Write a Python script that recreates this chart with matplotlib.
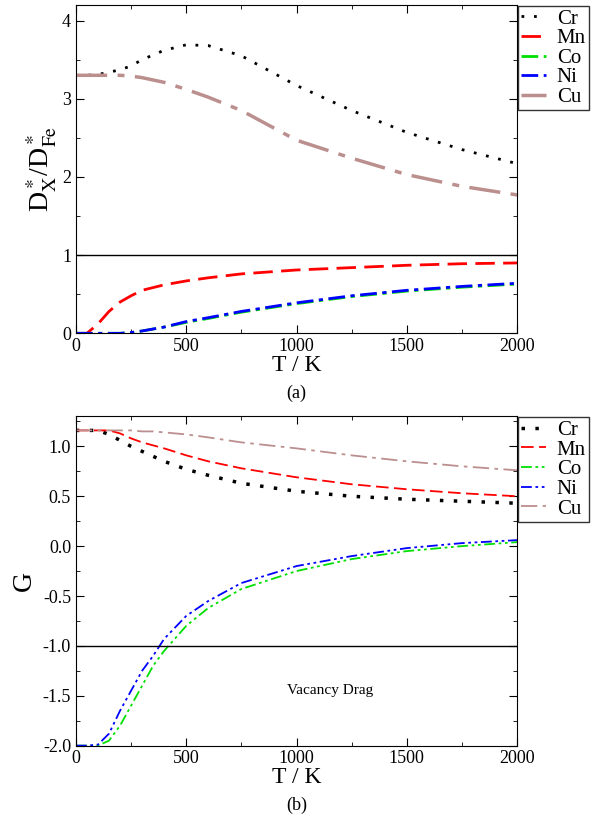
import matplotlib
matplotlib.use("Agg")
import matplotlib.pyplot as plt
from matplotlib.ticker import MultipleLocator

plt.rcParams['font.family'] = ['Liberation Serif', 'DejaVu Serif']
plt.rcParams['mathtext.fontset'] = 'stix'

# panel (a): D*_X / D*_Fe
t_a = [0, 50, 100, 150, 200, 250, 300, 400, 500, 600, 750, 1000, 1250, 1500, 1750, 2000]
cr_a = [3.30, 3.30, 3.31, 3.34, 3.37, 3.42, 3.50, 3.62, 3.69, 3.68, 3.55, 3.17, 2.85, 2.57, 2.35, 2.17]
mn_a = [0.0, 0.0, 0.12, 0.28, 0.40, 0.48, 0.55, 0.62, 0.67, 0.71, 0.76, 0.81, 0.84, 0.87, 0.89, 0.90]
co_a = [0.0, 0.0, 0.0, 0.0, 0.0, 0.01, 0.03, 0.08, 0.14, 0.19, 0.27, 0.38, 0.47, 0.54, 0.59, 0.63]
ni_a = [0.0, 0.0, 0.0, 0.0, 0.0, 0.01, 0.03, 0.08, 0.15, 0.20, 0.28, 0.39, 0.48, 0.55, 0.60, 0.64]
cu_a = [3.30, 3.30, 3.30, 3.30, 3.30, 3.29, 3.27, 3.21, 3.12, 3.02, 2.85, 2.47, 2.24, 2.03, 1.88, 1.77]

# panel (b): G
t_b = [0, 50, 100, 150, 200, 250, 300, 350, 400, 500, 600, 750, 1000, 1250, 1500, 1750, 2000]
cr_b = [1.16, 1.16, 1.16, 1.12, 1.06, 1.00, 0.95, 0.90, 0.85, 0.77, 0.71, 0.63, 0.55, 0.50, 0.47, 0.45, 0.43]
mn_b = [1.16, 1.16, 1.16, 1.16, 1.13, 1.08, 1.04, 1.01, 0.98, 0.91, 0.85, 0.78, 0.69, 0.62, 0.57, 0.53, 0.50]
co_b = [-2.0, -2.0, -2.0, -1.95, -1.80, -1.60, -1.40, -1.20, -1.05, -0.80, -0.62, -0.43, -0.25, -0.13, -0.05, 0.0, 0.04]
ni_b = [-2.0, -2.0, -1.99, -1.88, -1.65, -1.45, -1.25, -1.10, -0.93, -0.70, -0.55, -0.37, -0.20, -0.10, -0.02, 0.03, 0.06]
cu_b = [1.16, 1.16, 1.16, 1.16, 1.16, 1.16, 1.15, 1.15, 1.14, 1.12, 1.09, 1.04, 0.98, 0.91, 0.85, 0.80, 0.76]

names = ['Cr', 'Mn', 'Co', 'Ni', 'Cu']
colors = ['black', 'red', '#00e000', 'blue', '#bc8f8f']

fig = plt.figure(figsize=(5.93, 8.23), dpi=100)
ax1 = fig.add_axes([0.128, 0.595, 0.744, 0.399])
ax2 = fig.add_axes([0.128, 0.094, 0.744, 0.400])

styles_a = [(0, (1, 3.5)), (0, (7, 3)), (0, (6, 2, 1.5, 2)), (0, (6, 2, 1.5, 2)), (0, (9, 3, 2, 3))]
widths_a = [2, 2, 2, 2, 2.5]
for ys, n, c, ls, lw in zip([cr_a, mn_a, co_a, ni_a, cu_a], names, colors, styles_a, widths_a):
    ax1.plot(t_a, ys, color=c, ls=ls, lw=lw, label=n)
ax1.axhline(1, color='black', lw=1)
ax1.set_xlim(0, 2000)
ax1.set_ylim(0, 4.2)
ax1.yaxis.set_major_locator(MultipleLocator(1))
ax1.yaxis.set_minor_locator(MultipleLocator(0.5))
ax1.set_ylabel(r'D$^*_{\rm X}$/D$^*_{\rm Fe}$', fontsize=20, labelpad=2)
ax1.set_xlabel('T / K', fontsize=17, labelpad=0)

styles_b = [(0, (1, 3)), (0, (7, 3)), (0, (6, 2, 1.5, 2, 1.5, 2)), (0, (6, 2, 1.5, 2, 1.5, 2)), (0, (9, 3, 2, 3))]
widths_b = [2.5, 1.3, 1.3, 1.3, 1.3]
for ys, n, c, ls, lw in zip([cr_b, mn_b, co_b, ni_b, cu_b], names, colors, styles_b, widths_b):
    ax2.plot(t_b, ys, color=c, ls=ls, lw=lw, label=n)
ax2.axhline(-1, color='black', lw=1)
ax2.set_xlim(0, 2000)
ax2.set_ylim(-2.0, 1.3)
ax2.yaxis.set_major_locator(MultipleLocator(0.5))
ax2.yaxis.set_minor_locator(MultipleLocator(0.25))
ax2.yaxis.set_major_formatter(matplotlib.ticker.FormatStrFormatter('%.1f'))
ax2.set_ylabel('G', fontsize=20)
ax2.set_xlabel('T / K', fontsize=17, labelpad=0)
ax2.text(1150, -1.45, 'Vacancy Drag', fontsize=11, ha='center', va='center')

for ax in (ax1, ax2):
    ax.xaxis.set_major_locator(MultipleLocator(500))
    ax.xaxis.set_minor_locator(MultipleLocator(250))
    ax.tick_params(which='both', direction='in', top=True, right=True, labelsize=13)
    ax.tick_params(which='major', length=6)
    ax.tick_params(which='minor', length=3)
    leg = ax.legend(loc='upper left', bbox_to_anchor=(1.0, 1.0), fontsize=15, frameon=True,
                    fancybox=False, edgecolor='black', borderpad=0.15, labelspacing=0.0,
                    handlelength=1.2, handletextpad=0.5, borderaxespad=0.05)
    leg.get_frame().set_linewidth(1)

fig.text(0.5, 1 - 393 / 823, '(a)', ha='center', va='center', fontsize=13)
fig.text(0.5, 1 - 805 / 823, '(b)', ha='center', va='center', fontsize=13)

fig.savefig('out.png', dpi=100)
